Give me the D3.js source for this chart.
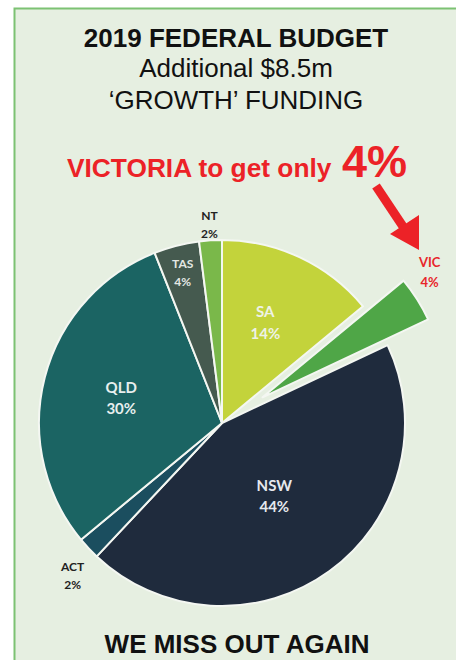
<!DOCTYPE html>
<html>
<head>
<meta charset="utf-8">
<script src="https://cdn.jsdelivr.net/npm/d3@7.9.0/dist/d3.min.js"></script>
<style>
  html, body { margin: 0; padding: 0; background: #fff; }
  svg { display: block; }
</style>
</head>
<body>
<div id="chart"></div>
<script>
// data
const states = ['SA', 'VIC', 'NSW', 'ACT', 'QLD', 'TAS', 'NT'];
const shares = [14, 4, 44, 2, 30, 4, 2];
const colors = ['#c3d33b', '#4fa647', '#1f2b3d', '#1b4e5f', '#1b6463', '#455a4f', '#7ab84a'];
const titleLines = ['2019 FEDERAL BUDGET', 'Additional $8.5m', '\u2018GROWTH\u2019 FUNDING'];

const width = 456;
const height = 660;
const cx = 222, cy = 423, radius = 183;

// label placement per state: distance from centre, angle nudge (deg), style
const labelStyle = {
    SA:  { r: 110, da: -2, size: 15, fill: '#eef2e6' },
    VIC: { r: 258, da: -4, size: 13, fill: '#e8262a' },
    NSW: { r: 89,  da: 0,  size: 15, fill: '#e6e9ee' },
    ACT: { r: 212, da: -2, size: 12, fill: '#222' },
    QLD: { r: 104, da: 0,  size: 15, fill: '#e8efee' },
    TAS: { r: 158, da: 0,  size: 12, fill: '#e4e8e4' },
    NT:  { r: 201, da: 0,  size: 12, fill: '#222' }
};

const data = states.map((s, i) => ({ state: s, value: shares[i], color: colors[i] }));

const svg = d3.select('#chart')
    .append('svg')
    .attr('width', width)
    .attr('height', height)
    .attr('viewBox', `0 0 ${width} ${height}`);

// panel
svg.append('rect')
    .attr('x', 14.5)
    .attr('y', 8.5)
    .attr('width', width + 20)
    .attr('height', height + 20)
    .attr('fill', '#e6efe1')
    .attr('stroke', '#7cc273')
    .attr('stroke-width', 2);

// title
const title = svg.append('g')
    .attr('font-family', "'Liberation Sans', Arial, sans-serif")
    .attr('fill', '#111')
    .attr('text-anchor', 'middle');

title.selectAll('text')
    .data(titleLines)
    .enter()
    .append('text')
    .attr('x', 236)
    .attr('y', (d, i) => [47, 77, 109][i])
    .attr('font-size', '26px')
    .attr('font-weight', (d, i) => i === 0 ? 'bold' : 'normal')
    .text(d => d);

// red callout
const red = '#ec2227';
svg.append('text')
    .attr('x', 67)
    .attr('y', 177)
    .attr('font-family', "'Liberation Sans', Arial, sans-serif")
    .attr('font-weight', 'bold')
    .attr('font-size', '26.3px')
    .attr('fill', red)
    .text('VICTORIA to get only');
svg.append('text')
    .attr('x', 342)
    .attr('y', 177)
    .attr('font-family', "'Liberation Sans', Arial, sans-serif")
    .attr('font-weight', 'bold')
    .attr('font-size', '45px')
    .attr('fill', red)
    .text('4%');

// arrow
svg.append('line')
    .attr('x1', 376).attr('y1', 186)
    .attr('x2', 404).attr('y2', 228)
    .attr('stroke', red)
    .attr('stroke-width', 9);
svg.append('path')
    .attr('d', 'M390,234 L419,215 L419,250 Z')
    .attr('fill', red);

// pie
const pie = d3.pie()
    .sort(null)
    .value(d => d.value);

const arcs = pie(data);

const arc = d3.arc()
    .innerRadius(0)
    .outerRadius(radius);

const explode = 48;

const pieG = svg.append('g')
    .attr('transform', `translate(${cx},${cy})`);

pieG.selectAll('path')
    .data(arcs)
    .enter()
    .append('path')
    .attr('d', arc)
    .attr('fill', d => d.data.color)
    .attr('stroke', '#f4f7f2')
    .attr('stroke-width', 2)
    .attr('stroke-linejoin', 'round')
    .attr('transform', d => {
        if (d.data.state !== 'VIC') return null;
        const a = (d.startAngle + d.endAngle) / 2;
        return `translate(${explode * Math.sin(a)},${-explode * Math.cos(a)})`;
    });

// labels
const labels = pieG.selectAll('.label')
    .data(arcs)
    .enter()
    .append('text')
    .attr('class', 'label')
    .attr('font-family', "Lato, 'Open Sans', sans-serif")
    .attr('font-weight', 'bold')
    .attr('text-anchor', 'middle')
    .attr('font-size', d => labelStyle[d.data.state].size + 'px')
    .attr('fill', d => labelStyle[d.data.state].fill)
    .attr('transform', d => {
        const st = labelStyle[d.data.state];
        const a = (d.startAngle + d.endAngle) / 2 + st.da * Math.PI / 180;
        return `translate(${st.r * Math.sin(a)},${-st.r * Math.cos(a)})`;
    });

labels.append('tspan')
    .attr('x', 0)
    .attr('dy', d => labelStyle[d.data.state].size > 13 ? '-0.3em' : '-0.2em')
    .text(d => d.data.state);

labels.append('tspan')
    .attr('x', 0)
    .attr('dy', d => labelStyle[d.data.state].size > 13 ? '1.45em' : '1.5em')
    .text(d => d.data.value + '%');

// footer
svg.append('text')
    .attr('x', 237)
    .attr('y', 653)
    .attr('text-anchor', 'middle')
    .attr('font-family', "'Liberation Sans', Arial, sans-serif")
    .attr('font-weight', 'bold')
    .attr('font-size', '26px')
    .attr('fill', '#111')
    .text('WE MISS OUT AGAIN');
</script>
</body>
</html>
